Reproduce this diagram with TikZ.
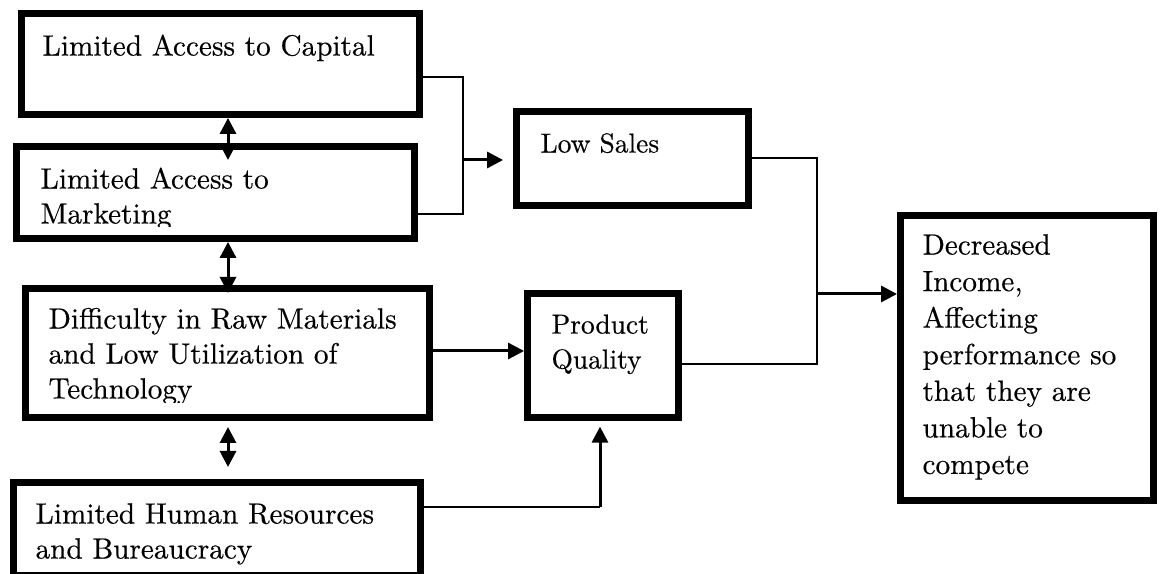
\documentclass[tikz,border=0pt]{standalone}
\usepackage{fontspec}
\setmainfont{lmroman10-regular.otf}[FakeBold=0.4]
\usetikzlibrary{arrows.meta}
\def\u{0.35pt}
\tikzset{
 box/.style 2 args={draw, line width=2.4pt, minimum width=#1*\u, minimum height=#2*\u, inner sep=0pt},
 txt/.style={anchor=north west, inner sep=0pt, align=left, font=\fontsize{10.24pt}{12.25pt}\selectfont},
 tms/.style={anchor=north west, inner sep=0pt, align=left, font=\fontsize{9.6pt}{12.25pt}\selectfont},
 con/.style={line width=0.7pt},
 tip/.style={-{Triangle[length=5.6pt,width=5.6pt]}},
 arr/.style={line width=1.05pt, tip},
 darr/.style={line width=1.05pt, {Triangle[length=5.6pt,width=5.6pt]}-{Triangle[length=5.6pt,width=5.6pt]}},
}
\begin{document}
\begin{tikzpicture}[x=0.35pt,y=-0.35pt]
\useasboundingbox (0,0) rectangle (1162,574);
% boxes
\node[box={398}{101}] (cap) at (220.5,64) {};
\node[box={398}{92}] (mkt) at (215.5,192.5) {};
\node[box={404}{129}] (raw) at (227.5,353) {};
\node[box={407}{93}] (hr) at (217,529) {};
\node[box={232}{94}] (sales) at (632.5,158.5) {};
\node[box={151}{124}] (pq) at (603,355.5) {};
\node[box={253}{285}] (inc) at (1027,358) {};
% texts
\node[txt] (capT) at (42,32.1) {\rule{0pt}{8pt}Limited Access to Capital};
\begin{scope}
\clip (20,150) rectangle (410,227);
\node[txt] (mktT) at (40,165.1) {\rule{0pt}{8pt}Limited Access to\\Marketing};
\end{scope}
\begin{scope}
\clip (30,292) rectangle (425,403);
\node[txt] (rawT) at (48,305.1) {\rule{0pt}{8pt}Difficulty in Raw Materials\\and Low Utilization of\\Technology};
\end{scope}
\begin{scope}
\clip (18,487) rectangle (415,567);
\node[txt] (hrT) at (35,500.1) {\rule{0pt}{8pt}Limited Human Resources\\and Bureaucracy};
\end{scope}
\node[tms] (salesT) at (540,129.1) {\rule{0pt}{8pt}Low Sales};
\node[tms] (pqT) at (551,310.1) {\rule{0pt}{8pt}Product\\Quality};
\node[txt, font=\fontsize{10.24pt}{12.8pt}\selectfont] (incT) at (922,231.1) {\rule{0pt}{8pt}Decreased\\Income,\\Affecting\\performance so\\that they are\\unable to\\compete};
% coordinates
\coordinate (b1t) at (463,77);
\coordinate (b1b) at (463,214);
\coordinate (b1m) at (463,160);
\coordinate (b2t) at (817,158);
\coordinate (b2b) at (817,364);
\coordinate (b2m) at (817,294);
\coordinate (rq) at (480,351);
\coordinate (hk) at (600,507);
\coordinate (d1) at (228,160);
\coordinate (d2) at (228,293);
\coordinate (d3a) at (228,427);
\coordinate (d3b) at (228,467);
% connectors
\draw[con] (cap.east |- b1t) -- (b1t) -- (b1b) -- (mkt.east |- b1b);
\draw[arr, shorten >=3.5pt] (b1m) -- (sales.west |- b1m);
\draw[con] (sales.east |- b2t) -- (b2t) -- (b2b) -- (pq.east |- b2b);
\draw[arr] (b2m) -- (inc.west |- b2m);
\draw[arr] (raw.east |- rq) -- (pq.west |- rq);
\draw[con] (hr.east |- hk) -- (hk);
\draw[arr, shorten >=2pt] (hk) -- (hk |- pq.south);
\draw[darr] (cap.south -| d1) -- (d1);
\draw[darr] (mkt.south -| d2) -- (d2);
\draw[darr] (d3a) -- (d3b);
\end{tikzpicture}
\end{document}
